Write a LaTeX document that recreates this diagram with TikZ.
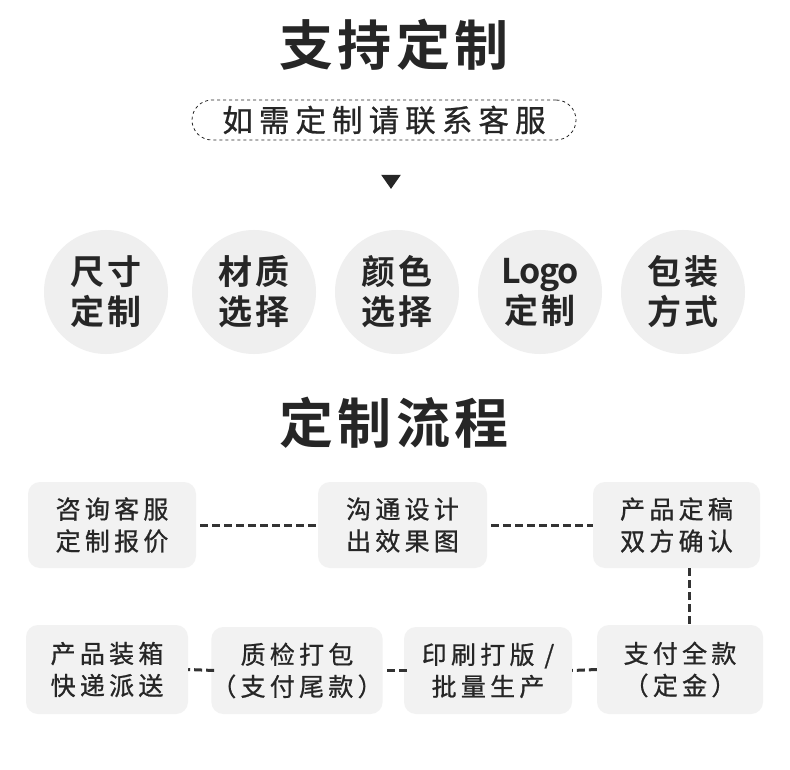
\documentclass[tikz,border=0pt]{standalone}
\usepackage{fontspec}
\newfontfamily\cjk{Noto Sans CJK SC}
\newfontfamily\cjkb{Noto Sans CJK SC Bold}
\usetikzlibrary{shapes.geometric}
\definecolor{ink}{HTML}{262626}
\definecolor{cfill}{HTML}{EFEFEF}
\definecolor{bfill}{HTML}{F2F2F2}
\definecolor{lcol}{HTML}{333333}
\tikzset{
  bigtitle/.style={text=ink,font={\fontsize{54}{60}\cjkb\addfontfeatures{LetterSpace=8}}},
  circ/.style={circle,fill=cfill,minimum size=124pt,inner sep=0pt,text=ink,align=center,
    font={\fontsize{34}{40}\cjkb\addfontfeatures{LetterSpace=10}}},
  flowbox/.style={rectangle,rounded corners=12pt,fill=bfill,inner sep=0pt,text=ink,align=center,
    font={\fontsize{25}{32}\cjk\addfontfeatures{LetterSpace=17,FakeBold=0.8}}},
  conn/.style={draw=lcol,line width=3pt,dash pattern=on 8pt off 4pt},
}
\begin{document}
\begin{tikzpicture}[x=1pt,y=-1pt]
\useasboundingbox[fill=white] (0,0) rectangle (790,770);
% titles
\node[bigtitle] (t1) at (394,45) {支持定制};
\node[draw=ink,dashed,line width=0.8pt,rounded corners=20pt,minimum width=384pt,minimum height=40pt,
  text=ink,font={\fontsize{30.5}{34}\cjk\addfontfeatures{LetterSpace=20,FakeBold=0.8}}] (sub) at (384,120) {如需定制请联系客服};
\node[isosceles triangle,isosceles triangle apex angle=70,shape border rotate=-90,fill=ink,inner sep=0pt,
  minimum height=14pt,minimum width=17pt] (tri) at (391,180) {};
% circles
\node[circ] (c1) at (106,292) {尺寸\\定制};
\node[circ] (c2) at (254,292) {材质\\选择};
\node[circ] (c3) at (397,292) {颜色\\选择};
\node[circ] (c4) at (540,292) {{\addfontfeatures{LetterSpace=-4}Logo}\\定制};
\node[circ] (c5) at (683,292) {包装\\方式};
\node[bigtitle] (t2) at (394,423) {定制流程};
% flow boxes row 1
\node[flowbox,minimum width=168pt,minimum height=86pt] (b1) at (112,525) {咨询客服\\定制报价};
\node[flowbox,minimum width=169pt,minimum height=86pt] (b2) at (402.5,525) {沟通设计\\出效果图};
\node[flowbox,minimum width=167pt,minimum height=86pt] (b3) at (676.5,525) {产品定稿\\双方确认};
% row 2
\node[flowbox,minimum width=162pt,minimum height=89pt] (b4) at (107,669.5) {产品装箱\\快递派送};
\node[flowbox,minimum width=168pt,minimum height=87pt] (b5) at (297,670.5) {质检打包\\（支付尾款）};
\node[flowbox,minimum width=168pt,minimum height=87pt] (b6) at (488,670.5) {印刷打版 /\\批量生产};
\node[flowbox,minimum width=166pt,minimum height=89pt] (b7) at (680,669.5) {支付全款\\（定金）};
% connectors
\draw[conn] ([xshift=4pt]b1.east) -- (b2.west);
\draw[conn] ([xshift=4pt]b2.east) -- (b3.west);
\draw[conn] ([xshift=13pt]b3.south) -- ([xshift=13pt]b3.south |- b7.north);
\draw[conn] (b7.west) -- (b6.east);
\draw[conn] ([xshift=3pt]b6.west) -- (b5.east);
\draw[conn] ([xshift=3pt]b5.west) -- (b4.east);
\end{tikzpicture}
\end{document}
